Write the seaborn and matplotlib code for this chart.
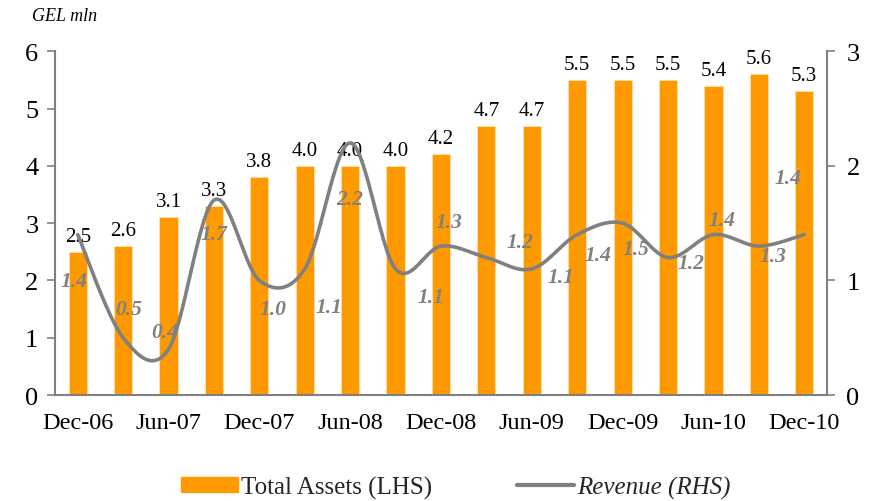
import numpy as np
import pandas as pd
import seaborn as sns
import matplotlib
matplotlib.use("Agg")
import matplotlib.pyplot as plt
from matplotlib.patches import Patch
from matplotlib.lines import Line2D

# Quarterly periods, Dec-06 .. Dec-10
periods = ["Dec-06", "Mar-07", "Jun-07", "Sep-07", "Dec-07", "Mar-08", "Jun-08",
           "Sep-08", "Dec-08", "Mar-09", "Jun-09", "Sep-09", "Dec-09", "Mar-10",
           "Jun-10", "Sep-10", "Dec-10"]
# Total assets, GEL mln (left axis)
total_assets = [2.5, 2.6, 3.1, 3.3, 3.8, 4.0, 4.0, 4.0, 4.2, 4.7, 4.7,
                5.5, 5.5, 5.5, 5.4, 5.6, 5.3]
# Revenue, GEL mln (right axis)
revenue = [1.4, 0.5, 0.4, 1.7, 1.0, 1.1, 2.2, 1.1, 1.3, 1.2, 1.1,
           1.4, 1.5, 1.2, 1.4, 1.3, 1.4]
# Every other period carries a tick label
shown_labels = ["Dec-06", "Jun-07", "Dec-07", "Jun-08", "Dec-08",
                "Jun-09", "Dec-09", "Jun-10", "Dec-10"]

# Pixel offsets of the revenue value labels relative to their points
rev_label_offsets = [(-4, -46), (6, 29), (-4, 17), (0, -34), (14, -29), (24, -38),
                     (0, -56), (35, -28), (8, 24), (34, 16), (29, -8), (21, -20),
                     (13, -26), (23, -5), (9, 15), (14, -10), (-16, 57)]

ORANGE = "#FF9900"
GREY = "#808080"
SERIF = ["Liberation Serif", "DejaVu Serif"]

sns.set_theme(style="white")
plt.rcParams["font.family"] = SERIF

df = pd.DataFrame({"period": periods, "assets": total_assets, "revenue": revenue})
df["pos"] = np.arange(len(df))


def smooth_curve(x, y, steps=30):
    """Catmull-Rom spline through the points, like a spreadsheet 'smoothed line'."""
    pts = np.column_stack([x, y]).astype(float)
    ext = np.vstack([pts[0], pts, pts[-1]])
    out = []
    t = np.linspace(0, 1, steps, endpoint=False)[:, None]
    for i in range(1, len(ext) - 2):
        p0, p1, p2, p3 = ext[i - 1], ext[i], ext[i + 1], ext[i + 2]
        c1 = p1 + (p2 - p0) / 6
        c2 = p2 - (p3 - p1) / 6
        seg = ((1 - t) ** 3) * p1 + 3 * ((1 - t) ** 2) * t * c1 \
            + 3 * (1 - t) * t ** 2 * c2 + t ** 3 * p2
        out.append(seg)
    out.append(pts[-1][None, :])
    arr = np.vstack(out)
    return pd.DataFrame({"x": arr[:, 0], "y": arr[:, 1]})


fig = plt.figure(figsize=(8.76, 5.02), dpi=100)
ax = fig.add_axes([0.0628, 0.211, 0.944 - 0.0628, 0.896 - 0.211])

sns.barplot(data=df, x="pos", y="assets", color=ORANGE, width=0.4,
            edgecolor="#FFE0B0", linewidth=0.6, saturation=1, ax=ax)
ax.set_xlim(-0.5, len(df) - 0.5)
ax.set_ylim(0, 6)
ax.set_yticks(range(0, 7))
ax.set_xlabel("")
ax.set_ylabel("")

for p, v in zip(df["pos"], df["assets"]):
    ax.annotate(f"{v:.1f}", (p, v), xytext=(0, 6), textcoords="offset pixels",
                ha="center", va="bottom", fontsize=15, color="black", zorder=5)

# x ticks: labels every second period, marks at category boundaries
ax.set_xticks(np.arange(0, len(df), 2))
ax.set_xticklabels(shown_labels)
ax.set_xticks(np.arange(-0.5, len(df), 1), minor=True)
ax.tick_params(axis="x", which="major", length=0, pad=12, labelsize=17.5, colors="black")
ax.tick_params(axis="x", which="minor", length=6, width=1.2, color=GREY, direction="out")
ax.tick_params(axis="y", which="major", length=6, width=1.2, color=GREY,
               direction="out", labelsize=19, labelcolor="black", pad=6)

for side in ["top", "right"]:
    ax.spines[side].set_visible(False)
for side in ["left", "bottom"]:
    ax.spines[side].set_color(GREY)
    ax.spines[side].set_linewidth(1.5)

ax2 = ax.twinx()
curve = smooth_curve(df["pos"], df["revenue"])
sns.lineplot(data=curve, x="x", y="y", sort=False, color=GREY, linewidth=2.6,
             ax=ax2, zorder=3)
ax2.set_ylim(0, 3)
ax2.set_yticks([0, 1, 2, 3])
ax2.set_ylabel("")
ax2.set_xlabel("")
ax2.tick_params(axis="y", length=6, width=1.2, color=GREY, direction="out",
                labelsize=19, labelcolor="black", pad=8)
for side in ["top", "left", "bottom"]:
    ax2.spines[side].set_visible(False)
ax2.spines["right"].set_color(GREY)
ax2.spines["right"].set_linewidth(1.5)
ax2.grid(False)
ax.grid(False)

for p, v, (dx, dy) in zip(df["pos"], df["revenue"], rev_label_offsets):
    ax2.annotate(f"{v:.1f}", (p, v), xytext=(dx, dy), textcoords="offset pixels",
                 ha="center", va="center", fontsize=15.5, color=GREY,
                 fontweight="bold", fontstyle="italic", zorder=6)

fig.text(0.037, 0.968, "GEL mln", fontsize=13, fontstyle="italic", va="center",
         ha="left", color="black")

handles = [Patch(facecolor=ORANGE, edgecolor=ORANGE),
           Line2D([0], [0], color=GREY, linewidth=3)]
leg = fig.legend(handles, ["Total Assets (LHS)", "Revenue (RHS)"], loc="center",
                 bbox_to_anchor=(0.52, 0.027), ncol=2, frameon=False, fontsize=18,
                 handlelength=2.3, handleheight=0.55, columnspacing=3.4,
                 handletextpad=0.1)
leg.get_texts()[1].set_fontstyle("italic")

fig.savefig("out.png", dpi=100)
